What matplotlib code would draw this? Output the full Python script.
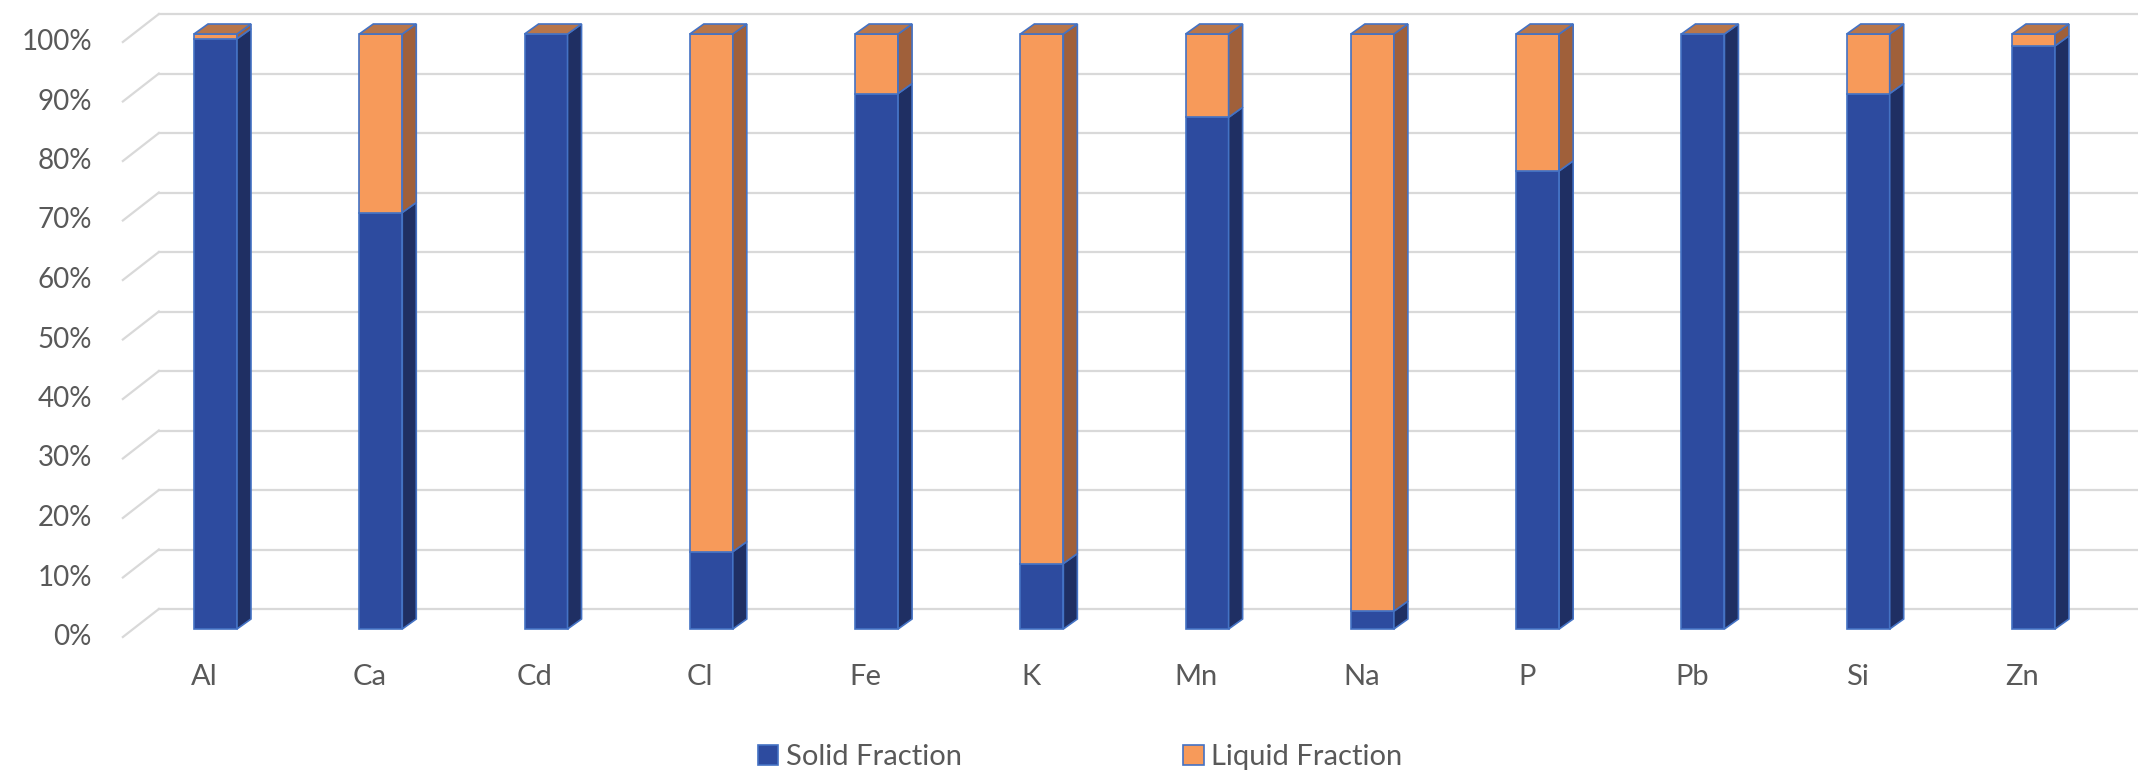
import matplotlib
matplotlib.use("Agg")
import matplotlib.pyplot as plt
from matplotlib.patches import Polygon, Patch

#---------------------------------------------------
# data (percent of each element in each fraction)
elements = ["Al", "Ca", "Cd", "Cl", "Fe", "K", "Mn", "Na", "P", "Pb", "Si", "Zn"]
solid = [99.2, 70, 100, 13, 90, 11, 86, 3, 77, 100, 90, 98]
liquid = [0.8, 30, 0, 87, 10, 89, 14, 97, 23, 0, 10, 2]
yticks = [0, 10, 20, 30, 40, 50, 60, 70, 80, 90, 100]
series_names = ["Solid Fraction", "Liquid Fraction"]

#---------------------------------------------------
# look
W, H = 2138, 779
X0_PX, STEP_PX = 215.5, 165.27   # pixel x of first bar, pixels per category
Y0_PX, PCT_PX = 150, 5.95        # pixel y of 0% (from bottom), pixels per percent

blue_front, blue_side = "#2D4B9F", "#1F2F63"
org_front, org_side, org_top = "#F79A5A", "#A0603A", "#B8764A"
edge = "#4472C4"
grid_c = "#D9D9D9"
text_c = "#595959"
font = "Lato"

def dxd(px):
    return px / STEP_PX

def dyd(px):
    return px / PCT_PX

#---------------------------------------------------
def main():
    fig = plt.figure(figsize=(W / 100, H / 100), dpi=100)
    ax = fig.add_axes([0, 0, 1, 1])
    ax.axis("off")
    ax.set_xlim(-X0_PX / STEP_PX, (W - X0_PX) / STEP_PX)
    ax.set_ylim(-Y0_PX / PCT_PX, (H - Y0_PX) / PCT_PX)
    xr = ax.get_xlim()[1]

    # back wall gridlines and the slanted floor/side lines
    for v in yticks:
        ax.plot([-0.5 + dxd(26), xr], [v + dyd(20)] * 2, color=grid_c, lw=1.6, zorder=1)
        ax.plot([-0.5 - dxd(10), -0.5 + dxd(26)], [v - dyd(8), v + dyd(20)],
                color=grid_c, lw=1.6, zorder=1)
        ax.text(-0.5 - dxd(41), v - dyd(8), "%d%%" % v, ha="right", va="center",
                fontsize=20, color=text_c, family=font)

    bw = 43 / STEP_PX
    DX, DY = dxd(14), dyd(10)
    x = list(range(len(elements)))

    # front faces
    ax.bar(x, solid, width=bw, color=blue_front, edgecolor=edge, lw=1.2, zorder=3)
    ax.bar(x, liquid, bottom=solid, width=bw, color=org_front, edgecolor=edge, lw=1.2, zorder=3)

    # side and top faces
    for i in x:
        r = i + bw / 2
        segs = [(0, solid[i], blue_side), (solid[i], solid[i] + liquid[i], org_side)]
        for y0, y1, c in segs:
            if y1 - y0 <= 0:
                continue
            ax.add_patch(Polygon([(r, y0), (r + DX, y0 + DY), (r + DX, y1 + DY), (r, y1)],
                                 closed=True, fc=c, ec=edge, lw=1.2, zorder=3))
        top = solid[i] + liquid[i]
        l = i - bw / 2
        ax.add_patch(Polygon([(l, top), (l + DX, top + DY), (r + DX, top + DY), (r, top)],
                             closed=True, fc=org_top, ec=edge, lw=1.2, zorder=3))
        ax.text(i - dxd(11), -dyd(48), elements[i], ha="center", va="center",
                fontsize=21, color=text_c, family=font)

    handles = [Patch(fc=blue_front, ec=edge, lw=1.2), Patch(fc=org_front, ec=edge, lw=1.2)]
    fig.legend(handles, series_names, loc="center", bbox_to_anchor=(1080 / W, 22 / H),
               ncol=2, frameon=False, handlelength=0.7, handleheight=0.7,
               handletextpad=0.25, columnspacing=7.6,
               prop={"family": font, "size": 21}, labelcolor=text_c)

    fig.savefig("out.png", dpi=100)

#---------------------------------------------------
if __name__ == "__main__":
    main()
